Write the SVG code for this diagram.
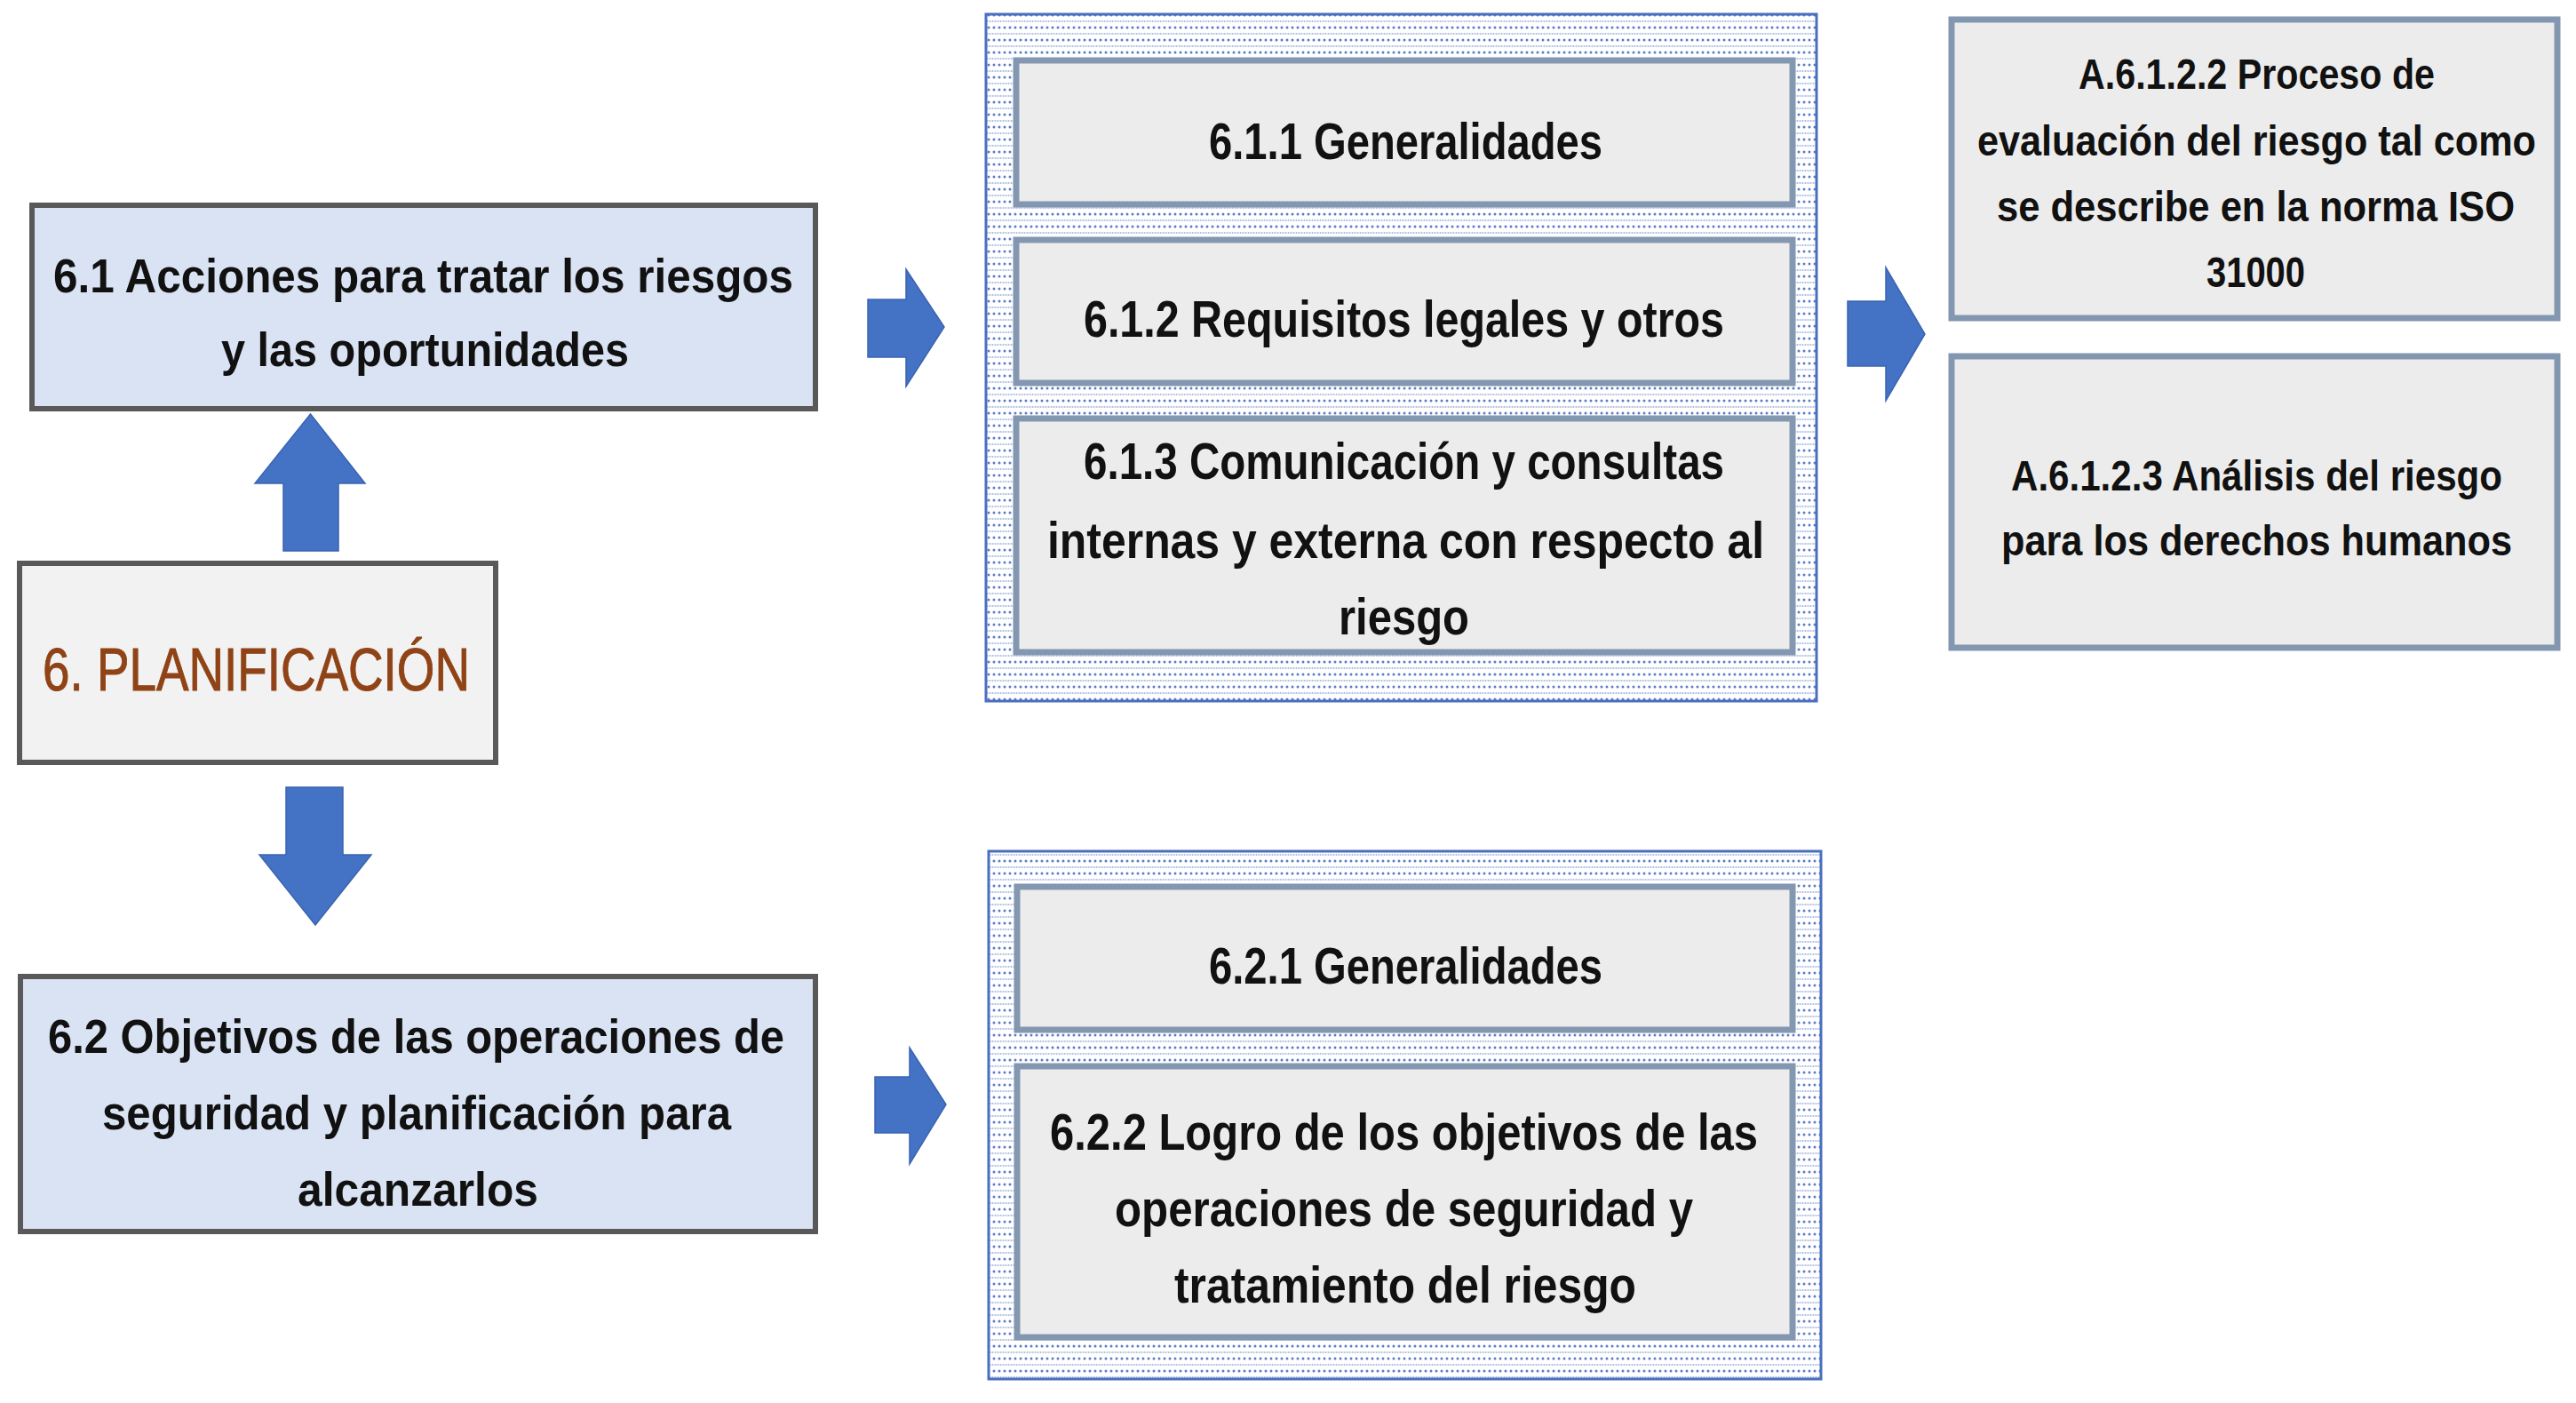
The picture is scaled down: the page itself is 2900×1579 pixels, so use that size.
<svg xmlns="http://www.w3.org/2000/svg" width="2900" height="1579" viewBox="0 0 2900 1579">
<defs>
<pattern id="dots" width="12" height="14" patternUnits="userSpaceOnUse">
<rect width="12" height="14" fill="#ffffff"/>
<circle cx="3" cy="3" r="1.5" fill="#5b7bc6"/>
<circle cx="9" cy="3" r="1.5" fill="#5b7bc6"/>
<circle cx="1.5" cy="10" r="1.1" fill="#a9b9e0"/>
<circle cx="4.5" cy="10" r="1.1" fill="#a9b9e0"/>
<circle cx="7.5" cy="10" r="1.1" fill="#a9b9e0"/>
<circle cx="10.5" cy="10" r="1.1" fill="#a9b9e0"/>
</pattern>
<style>
.main{fill:#dae3f3;stroke:#595959;stroke-width:6}
.plan{fill:#f2f2f2;stroke:#595959;stroke-width:6}
.cont{fill:url(#dots);stroke:#4a6fbf;stroke-width:3}
.inner{fill:#ececec;stroke:#8497b0;stroke-width:7}
.arr{fill:#4472c4;stroke:#3a64b0;stroke-width:1.5}
text{font-family:"Liberation Sans",Arial,sans-serif;fill:#111111;font-weight:bold}
.t52{font-size:53px}
.t58{font-size:58px}
.t47{font-size:48px}
.tp{font-size:68px;fill:#8f4316;font-weight:normal;stroke:#8f4316;stroke-width:1}
</style>
</defs>
<rect width="2900" height="1579" fill="#ffffff"/>

<g id="connectors">
<polygon class="arr" points="349.5,466 411,544 381,544 381,620 319,620 319,544 287,544"/>
<polygon class="arr" points="322,886 386,886 386,962 418,962 355,1041 292,962 322,962"/>
<polygon class="arr" points="977,337 1020,337 1020,303 1063,368 1020,435 1020,402 977,402"/>
<polygon class="arr" points="985,1212 1024,1212 1024,1179 1065,1243 1024,1310 1024,1275 985,1275"/>
<polygon class="arr" points="2080,339 2123,339 2123,301 2167,376 2123,451 2123,412 2080,412"/>
</g>

<g id="n61">
<rect class="main" x="36" y="231" width="882" height="229"/>
<text class="t52" x="60" y="329" textLength="833" lengthAdjust="spacingAndGlyphs">6.1 Acciones para tratar los riesgos</text>
<text class="t52" x="249" y="412" textLength="459" lengthAdjust="spacingAndGlyphs">y las oportunidades</text>
</g>

<g id="nplan">
<rect class="plan" x="22" y="634" width="536" height="224"/>
<text class="tp" x="48" y="777" textLength="481" lengthAdjust="spacingAndGlyphs">6. PLANIFICACIÓN</text>
</g>

<g id="n62">
<rect class="main" x="23" y="1099" width="895" height="287"/>
<text class="t52" x="54" y="1185" textLength="829" lengthAdjust="spacingAndGlyphs">6.2 Objetivos de las operaciones de</text>
<text class="t52" x="115" y="1271" textLength="708" lengthAdjust="spacingAndGlyphs">seguridad y planificación para</text>
<text class="t52" x="335" y="1357" textLength="271" lengthAdjust="spacingAndGlyphs">alcanzarlos</text>
</g>

<g id="g61">
<rect class="cont" x="1110" y="16" width="935" height="773"/>
<g id="n611">
<rect class="inner" x="1144" y="68" width="874" height="162"/>
<text class="t58" x="1361" y="179" textLength="443" lengthAdjust="spacingAndGlyphs">6.1.1 Generalidades</text>
</g>
<g id="n612">
<rect class="inner" x="1144" y="270" width="874" height="161"/>
<text class="t58" x="1220" y="379" textLength="721" lengthAdjust="spacingAndGlyphs">6.1.2 Requisitos legales y otros</text>
</g>
<g id="n613">
<rect class="inner" x="1144" y="471" width="874" height="263"/>
<text class="t58" x="1220" y="539" textLength="721" lengthAdjust="spacingAndGlyphs">6.1.3 Comunicación y consultas</text>
<text class="t58" x="1179" y="628" textLength="807" lengthAdjust="spacingAndGlyphs">internas y externa con respecto al</text>
<text class="t58" x="1507" y="714" textLength="147" lengthAdjust="spacingAndGlyphs">riesgo</text>
</g>
</g>

<g id="g62">
<rect class="cont" x="1113" y="958" width="937" height="594"/>
<g id="n621">
<rect class="inner" x="1145" y="998" width="873" height="161"/>
<text class="t58" x="1361" y="1107" textLength="443" lengthAdjust="spacingAndGlyphs">6.2.1 Generalidades</text>
</g>
<g id="n622">
<rect class="inner" x="1145" y="1200" width="873" height="305"/>
<text class="t58" x="1182" y="1294" textLength="797" lengthAdjust="spacingAndGlyphs">6.2.2 Logro de los objetivos de las</text>
<text class="t58" x="1255" y="1380" textLength="651" lengthAdjust="spacingAndGlyphs">operaciones de seguridad y</text>
<text class="t58" x="1322" y="1466" textLength="520" lengthAdjust="spacingAndGlyphs">tratamiento del riesgo</text>
</g>
</g>

<g id="nA6122">
<rect class="inner" x="2197" y="22" width="682" height="336"/>
<text class="t47" x="2340" y="100" textLength="401" lengthAdjust="spacingAndGlyphs">A.6.1.2.2 Proceso de</text>
<text class="t47" x="2226" y="175" textLength="629" lengthAdjust="spacingAndGlyphs">evaluación del riesgo tal como</text>
<text class="t47" x="2248" y="249" textLength="583" lengthAdjust="spacingAndGlyphs">se describe en la norma ISO</text>
<text class="t47" x="2484" y="323" textLength="111" lengthAdjust="spacingAndGlyphs">31000</text>
</g>

<g id="nA6123">
<rect class="inner" x="2197" y="401" width="682" height="328"/>
<text class="t47" x="2264" y="552" textLength="553" lengthAdjust="spacingAndGlyphs">A.6.1.2.3 Análisis del riesgo</text>
<text class="t47" x="2253" y="625" textLength="575" lengthAdjust="spacingAndGlyphs">para los derechos humanos</text>
</g>
</svg>
